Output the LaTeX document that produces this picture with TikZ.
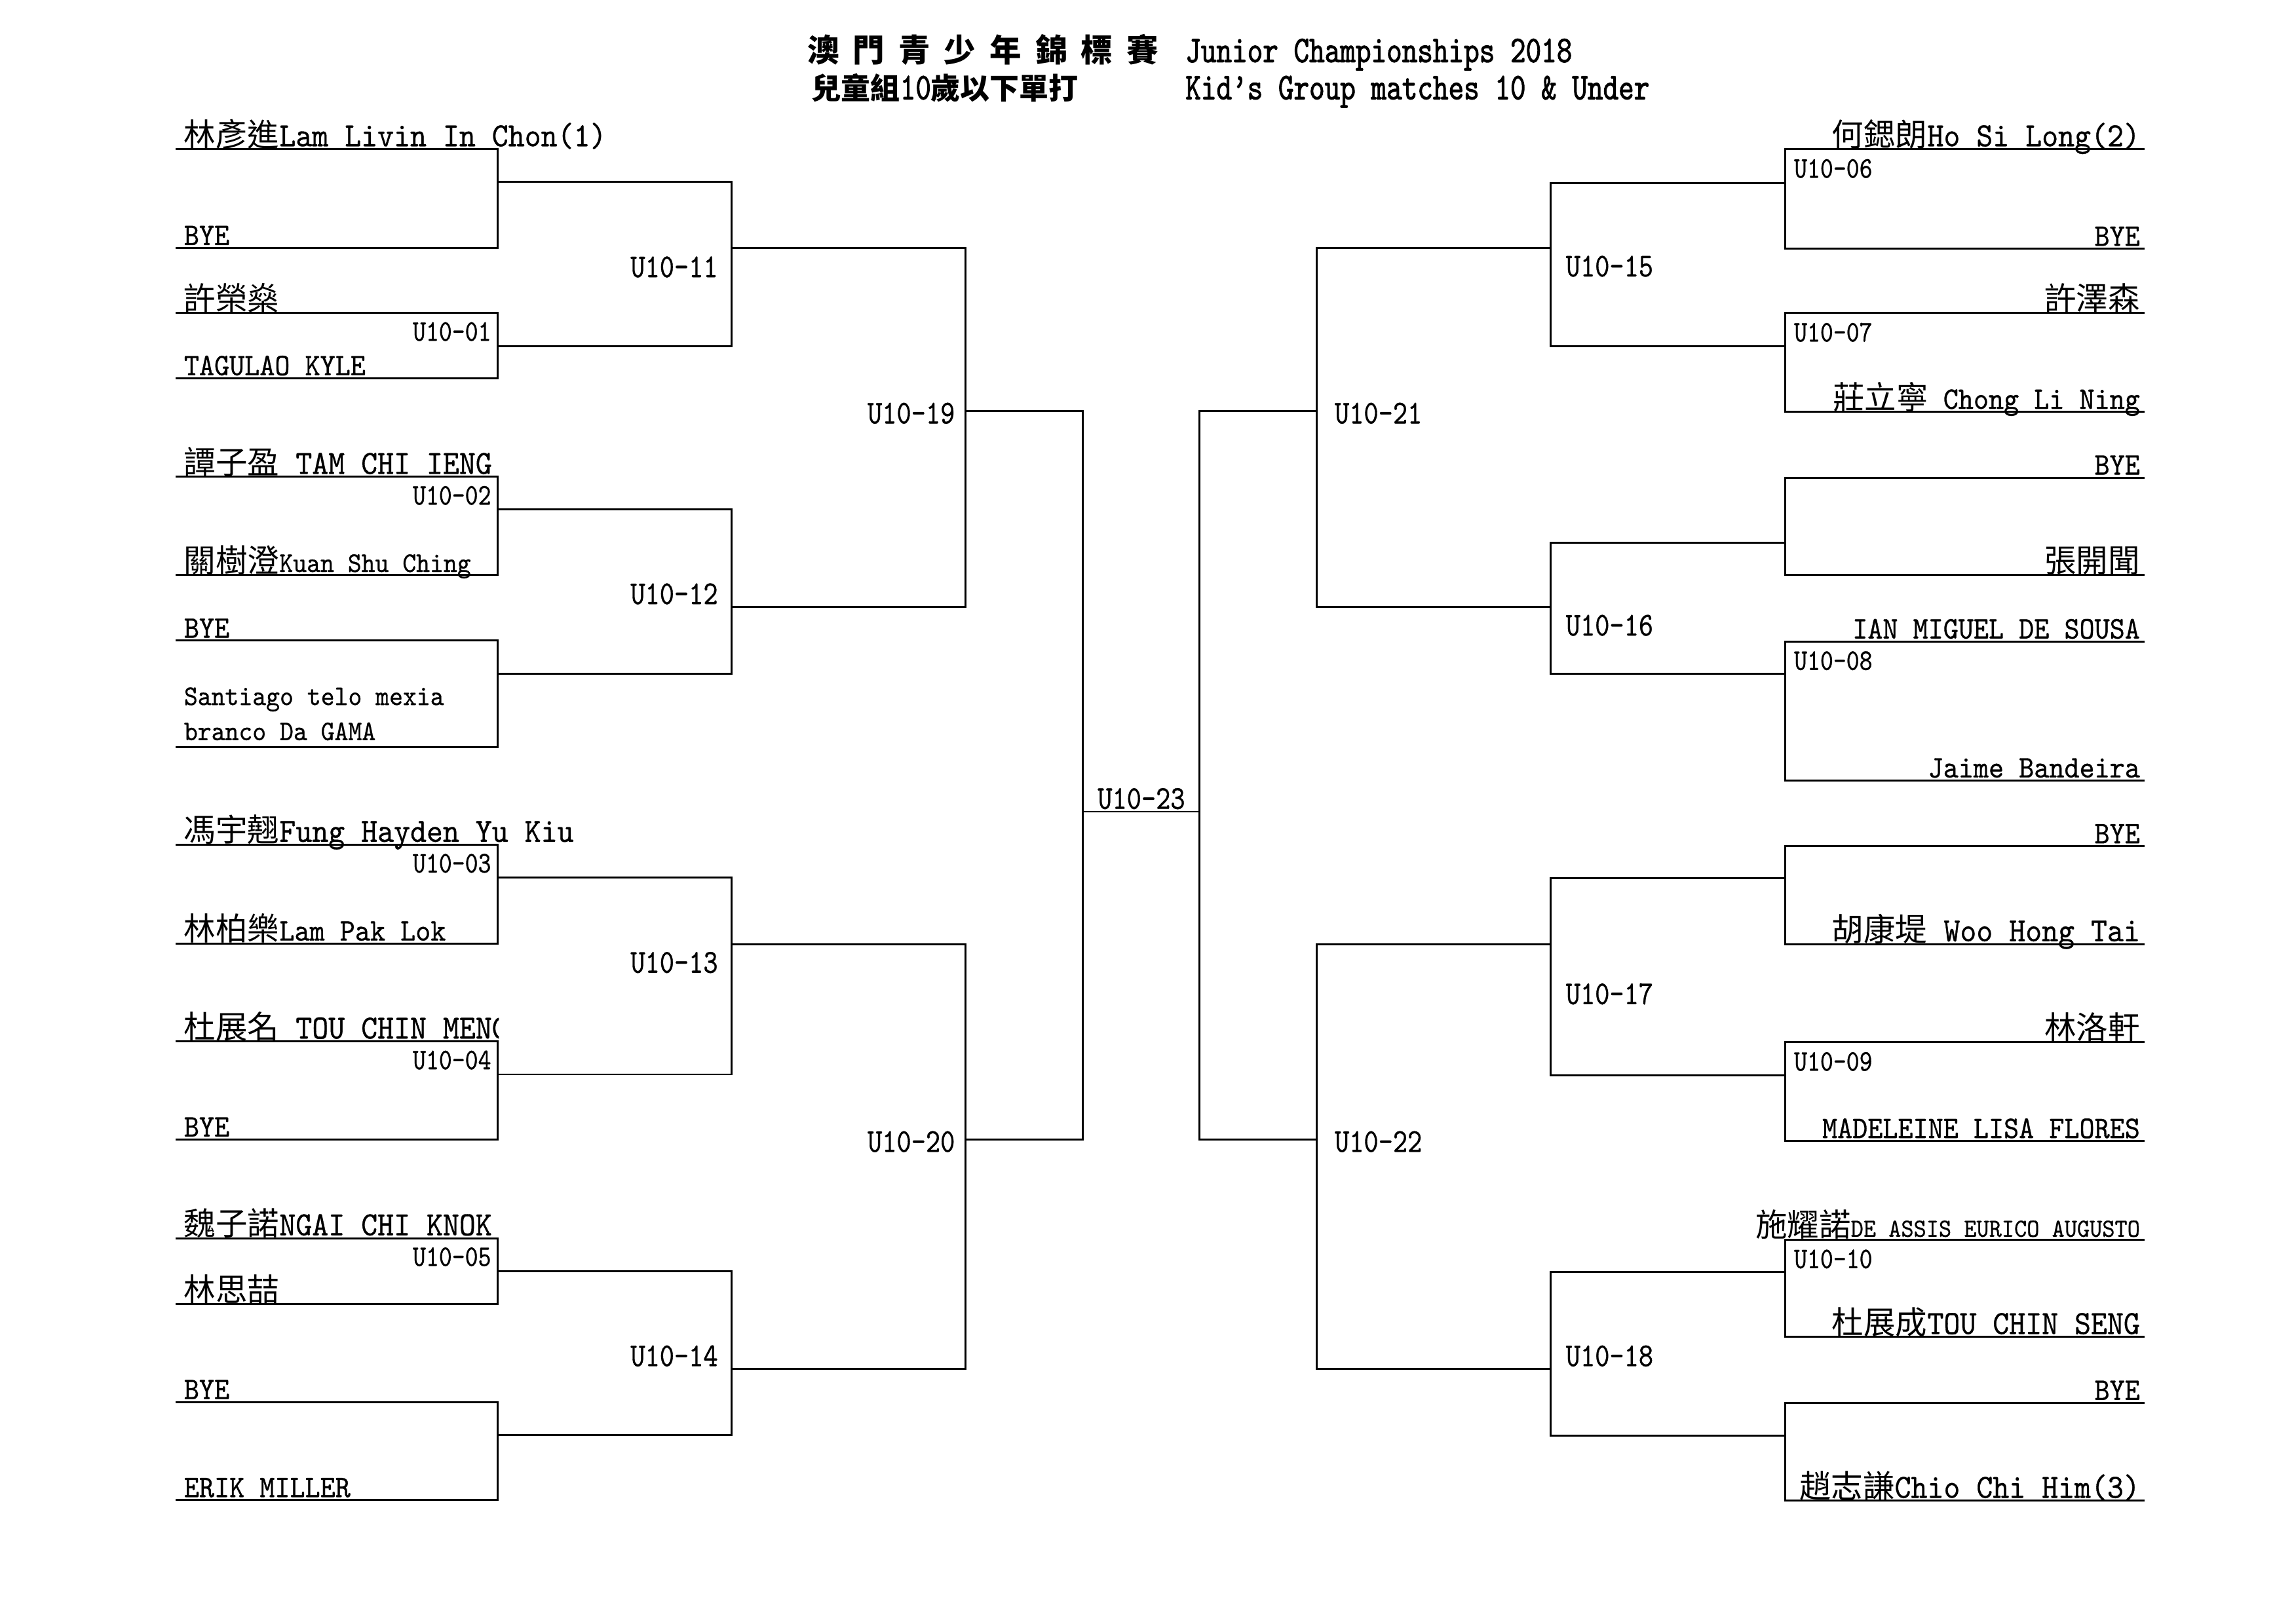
\documentclass[tikz,border=0pt]{standalone}
\usepackage{fontspec}
\setmonofont{lmmono10-regular.otf}[FakeStretch=0.92, FakeBold=0.6]
\newfontfamily\gamefont{lmmono10-regular.otf}[FakeStretch=0.83, FakeBold=0.6]
\newfontfamily\headfont{lmmono10-regular.otf}[FakeStretch=0.78, FakeBold=1.6]
\newfontfamily\cjk{Noto Sans CJK TC}
\newcommand{\zh}[1]{{\cjk\fontsize{13.8}{16}\selectfont #1}}
\newcommand{\zhb}[1]{{\cjk\bfseries\fontsize{12.8}{16}\selectfont #1}}
\tikzset{
  bk/.style={line width=0.85pt},
  fine/.style={line width=0.5pt},
  lname/.style={anchor=base west, inner sep=0pt, font=\ttfamily\fontsize{14.7}{16}\selectfont},
  rname/.style={anchor=base east, inner sep=0pt, font=\ttfamily\fontsize{14.7}{16}\selectfont},
  sm/.style={font=\ttfamily\fontsize{13.6}{15}\selectfont},
  tiny/.style={font=\ttfamily\fontsize{12.3}{14}\selectfont},
  game/.style={inner sep=0pt, font=\gamefont\fontsize{14.5}{16}\selectfont},
  firstgame/.style={inner sep=0pt, font=\gamefont\fontsize{13}{15}\selectfont},
  headline/.style={anchor=base west, inner sep=0pt, font=\headfont\fontsize{16.4}{18}\selectfont}
}

\begin{document}
\begin{tikzpicture}[x=0.22328mm, y=-0.22328mm]
	\path[fill=white] (0,0) rectangle (1568,1110);
	\useasboundingbox (0,0) rectangle (1568,1110);

	\node[headline] (t1) at (551.5,42.5) {\zhb{\fontsize{13.8}{16}\selectfont\spaceskip=6pt 澳 門 青 少 年 錦 標 賽}};
	\node[headline] (t2) at (810,42.5) {Junior Championships 2018};
	\node[headline] (t3) at (554.5,67.9) {\zhb{兒童組}10\zhb{歲以下單打}};
	\node[headline] (t4) at (810,67.9) {Kid’s Group matches 10 \& Under};

	\coordinate (a1) at (120,102);
	\coordinate (a2) at (120,169.5);
	\coordinate (a3) at (120,214);
	\coordinate (a4) at (120,258.5);
	\coordinate (a5) at (120,326);
	\coordinate (a6) at (120,393);
	\coordinate (a7) at (120,438);
	\coordinate (a8) at (120,511);
	\coordinate (a9) at (120,577.5);
	\coordinate (a10) at (120,645);
	\coordinate (a11) at (120,712);
	\coordinate (a12) at (120,779);
	\coordinate (a13) at (120,846.5);
	\coordinate (a14) at (120,891.5);
	\coordinate (a15) at (120,958.5);
	\coordinate (a16) at (120,1025.5);

	\coordinate (r1) at (340,124.5);
	\coordinate (r2) at (340,236.5);
	\coordinate (r3) at (340,348);
	\coordinate (r4) at (340,460.5);
	\coordinate (r5) at (340,600);
	\coordinate (r6) at (340,734.5);
	\coordinate (r7) at (340,869);
	\coordinate (r8) at (340,981);

	\coordinate (m11) at (500,169.5);
	\coordinate (m12) at (500,415);
	\coordinate (m13) at (500,645.5);
	\coordinate (m14) at (500,936);
	\coordinate (m19) at (660,281);
	\coordinate (m20) at (660,779);
	\coordinate (c1) at (740,555);
	\coordinate (c2) at (820,555);
	\coordinate (m21) at (900,281);
	\coordinate (m22) at (900,779);
	\coordinate (m15) at (1060,169.5);
	\coordinate (m16) at (1060,415);
	\coordinate (m17) at (1060,645.5);
	\coordinate (m18) at (1060,936);

	\coordinate (s1) at (1220,125);
	\coordinate (s2) at (1220,236.5);
	\coordinate (s3) at (1220,371);
	\coordinate (s4) at (1220,460.5);
	\coordinate (s5) at (1220,600.5);
	\coordinate (s6) at (1220,735);
	\coordinate (s7) at (1220,869.5);
	\coordinate (s8) at (1220,981.5);

	\coordinate (b1) at (1466,102);
	\coordinate (b2) at (1466,170);
	\coordinate (b3) at (1466,214);
	\coordinate (b4) at (1466,281.5);
	\coordinate (b5) at (1466,326.5);
	\coordinate (b6) at (1466,393);
	\coordinate (b7) at (1466,438.5);
	\coordinate (b8) at (1466,533.5);
	\coordinate (b9) at (1466,578.5);
	\coordinate (b10) at (1466,645.5);
	\coordinate (b11) at (1466,712.5);
	\coordinate (b12) at (1466,780);
	\coordinate (b13) at (1466,847.5);
	\coordinate (b14) at (1466,914);
	\coordinate (b15) at (1466,959);
	\coordinate (b16) at (1466,1026);

	\draw[bk] (a1) -| (r1) |- (a2);
	\draw[bk] (a3) -| (r2) |- (a4);
	\draw[bk] (a5) -| (r3) |- (a6);
	\draw[bk] (a7) -| (r4) |- (a8);
	\draw[bk] (a9) -| (r5) |- (a10);
	\draw[bk] (a11) -| (r6) |- (a12);
	\draw[bk] (a13) -| (r7) |- (a14);
	\draw[bk] (a15) -| (r8) |- (a16);
	\draw[bk] (r1) -| (m11) |- (r2);
	\draw[bk] (r3) -| (m12) |- (r4);
	\draw[bk] (r5) -| (m13) |- (r6);
	\draw[bk] (r7) -| (m14) |- (r8);
	\draw[bk] (m11) -| (m19) |- (m12);
	\draw[bk] (m13) -| (m20) |- (m14);
	\draw[bk] (m19) -| (c1) |- (m20);
	\draw[fine] (c1) -- (c2);
	\draw[bk] (m21) -| (c2) |- (m22);
	\draw[bk] (m15) -| (m21) |- (m16);
	\draw[bk] (m17) -| (m22) |- (m18);
	\draw[bk] (s1) -| (m15) |- (s2);
	\draw[bk] (s3) -| (m16) |- (s4);
	\draw[bk] (s5) -| (m17) |- (s6);
	\draw[bk] (s7) -| (m18) |- (s8);
	\draw[bk] (b1) -| (s1) |- (b2);
	\draw[bk] (b3) -| (s2) |- (b4);
	\draw[bk] (b5) -| (s3) |- (b6);
	\draw[bk] (b7) -| (s4) |- (b8);
	\draw[bk] (b9) -| (s5) |- (b10);
	\draw[bk] (b11) -| (s6) |- (b12);
	\draw[bk] (b13) -| (s7) |- (b14);
	\draw[bk] (b15) -| (s8) |- (b16);

	\node[lname] (n1) at (125.5,100) {\zh{林彥進}Lam Livin In Chon(1)};
	\node[lname, sm] (n2) at (125.5,167.5) {BYE};
	\node[lname] (n3) at (125.5,212) {\zh{許榮燊}};
	\node[lname, sm] (n4) at (125.5,256.5) {TAGULAO KYLE};
	\node[lname] (n5) at (125.5,324) {\zh{譚子盈} TAM CHI IENG};
	\node[lname, tiny] (n6) at (125.5,391) {\zh{關樹澄}Kuan Shu Ching};
	\node[lname, sm] (n7) at (125.5,436) {BYE};
	\node[lname, tiny] (n8a) at (125.5,482) {Santiago telo mexia};
	\node[lname, tiny] (n8b) at (125.5,506) {branco Da GAMA};
	\node[lname] (n9) at (125.5,575.5) {\zh{馮宇翹}Fung Hayden Yu Kiu};
	\node[lname, sm] (n10) at (125.5,643) {\zh{林柏樂}Lam Pak Lok};
	\begin{scope}
		\clip (118,680) rectangle (341,720);
		\node[lname] (n11) at (125.5,710) {\zh{杜展名} TOU CHIN MENG};
	\end{scope}
	\node[lname, sm] (n12) at (125.5,777) {BYE};
	\node[lname] (n13) at (125.5,844.5) {\zh{魏子諾}NGAI CHI KNOK};
	\node[lname] (n14) at (125.5,889.5) {\zh{林思喆}};
	\node[lname, sm] (n15) at (125.5,956.5) {BYE};
	\node[lname, sm] (n16) at (125.5,1023.5) {ERIK MILLER};

	\node[rname] (o1) at (1463,100) {\zh{何鍶朗}Ho Si Long(2)};
	\node[rname, sm] (o2) at (1463,168) {BYE};
	\node[rname] (o3) at (1463,212) {\zh{許澤森}};
	\node[rname, sm] (o4) at (1463,279.5) {\zh{莊立寧} Chong Li Ning};
	\node[rname, sm] (o5) at (1463,324.5) {BYE};
	\node[rname] (o6) at (1463,391) {\zh{張開聞}};
	\node[rname, sm] (o7) at (1463,436.5) {IAN MIGUEL DE SOUSA};
	\node[rname, sm] (o8) at (1463,531.5) {Jaime Bandeira};
	\node[rname, sm] (o9) at (1463,576.5) {BYE};
	\node[rname] (o10) at (1463,643.5) {\zh{胡康堤} Woo Hong Tai};
	\node[rname] (o11) at (1463,710.5) {\zh{林洛軒}};
	\node[rname, sm] (o12) at (1463,778) {MADELEINE LISA FLORES};
	\node[rname, font=\ttfamily\fontsize{11.3}{12}\selectfont] (o13) at (1463,845.5) {\zh{施耀諾}DE ASSIS EURICO AUGUSTO};
	\node[rname] (o14) at (1463,912) {\zh{杜展成}TOU CHIN SENG};
	\node[rname, sm] (o15) at (1463,957) {BYE};
	\node[rname] (o16) at (1463,1024) {\zh{趙志謙}Chio Chi Him(3)};

	\node[firstgame, anchor=base east] (g01) at (336,233) {U10-01};
	\node[firstgame, anchor=base east] (g02) at (336,345) {U10-02};
	\node[firstgame, anchor=base east] (g03) at (336,596.5) {U10-03};
	\node[firstgame, anchor=base east] (g04) at (336,731) {U10-04};
	\node[firstgame, anchor=base east] (g05) at (336,865.5) {U10-05};
	\node[firstgame, anchor=base west] (g06) at (1226,121.5) {U10-06};
	\node[firstgame, anchor=base west] (g07) at (1226,233.5) {U10-07};
	\node[firstgame, anchor=base west] (g08) at (1226,458) {U10-08};
	\node[firstgame, anchor=base west] (g09) at (1226,732) {U10-09};
	\node[firstgame, anchor=base west] (g10) at (1226,867) {U10-10};

	\node[game, anchor=base east] (g11) at (491,189.5) {U10-11};
	\node[game, anchor=base east] (g12) at (491,413) {U10-12};
	\node[game, anchor=base east] (g13) at (491,665) {U10-13};
	\node[game, anchor=base east] (g14) at (491,934) {U10-14};
	\node[game, anchor=base east] (g19) at (653,289.5) {U10-19};
	\node[game, anchor=base east] (g20) at (653,787.5) {U10-20};
	\node[game, anchor=base west] (g23) at (750,553) {U10-23};
	\node[game, anchor=base west] (g21) at (912,289.5) {U10-21};
	\node[game, anchor=base west] (g22) at (912,787.5) {U10-22};
	\node[game, anchor=base west] (g15) at (1070,189) {U10-15};
	\node[game, anchor=base west] (g16) at (1070,434.5) {U10-16};
	\node[game, anchor=base west] (g17) at (1070,686.5) {U10-17};
	\node[game, anchor=base west] (g18) at (1070,934) {U10-18};
\end{tikzpicture}
\end{document}
